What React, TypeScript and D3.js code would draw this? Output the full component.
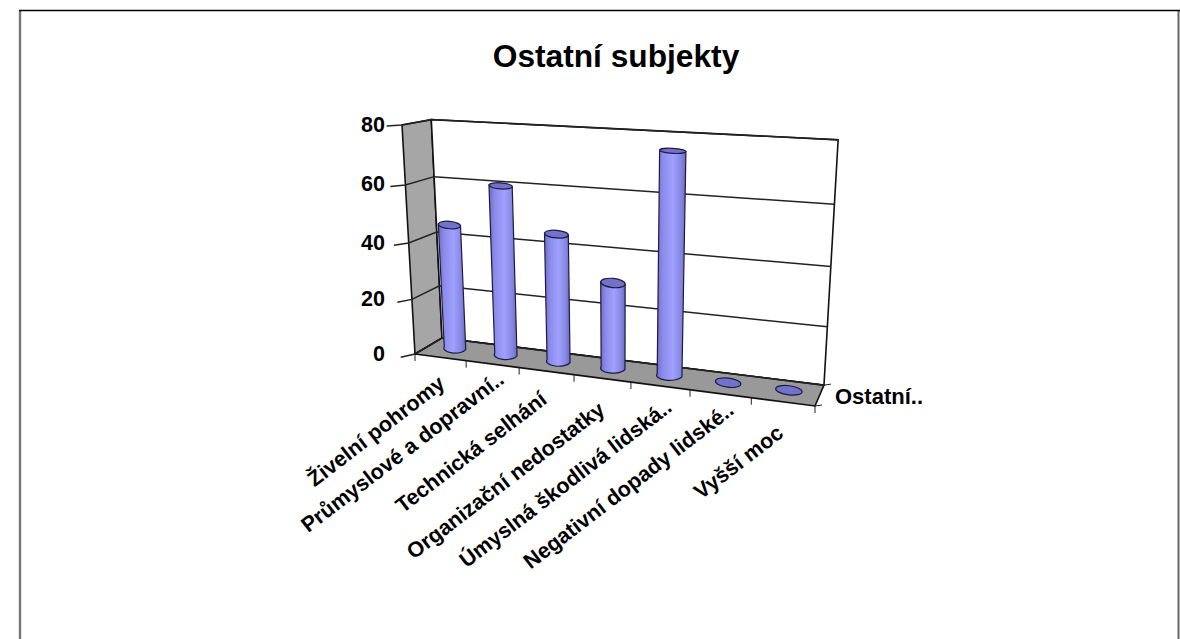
import * as d3 from 'd3';
import { useEffect, useRef } from 'react';

const TITLE = 'Ostatní subjekty';
const SERIES_NAME = 'Ostatní..';
const CATEGORIES = [
  'Živelní pohromy',
  'Průmyslové a dopravní..',
  'Technická selhání',
  'Organizační nedostatky',
  'Úmyslná škodlivá lidská..',
  'Negativní dopady lidské..',
  'Vyšší moc',
];
const VALUES = [45, 60, 45, 30, 75, 0, 0];
const Y_TICKS = [0, 20, 40, 60, 80];

const WIDTH = 1180;
const HEIGHT = 639;

// label end offsets, excel nudges these around
const LABEL_NUDGE = [
  [6, 29],
  [13, 18],
  [2, 31],
  [4, 34],
  [13, 24],
  [15, 19],
  [2, 34],
];

type Pt = [number, number];

// corners of the 3d box as seen on the picture
const ORIGIN: Pt = [415, 354];
const END_X: Pt = [815, 406];
const END_DEPTH: Pt = [442, 338];
const END_Z: Pt = [402, 125];
const PERSP = { x: -0.12, depth: 0.05, z: -0.06 };

const vecX: Pt = [END_X[0] * (1 + PERSP.x) - ORIGIN[0], END_X[1] * (1 + PERSP.x) - ORIGIN[1]];
const vecD: Pt = [END_DEPTH[0] * (1 + PERSP.depth) - ORIGIN[0], END_DEPTH[1] * (1 + PERSP.depth) - ORIGIN[1]];
const vecZ: Pt = [END_Z[0] * (1 + PERSP.z) - ORIGIN[0], END_Z[1] * (1 + PERSP.z) - ORIGIN[1]];

function project(u: number, v: number, h: number): Pt {
  const w = 1 + PERSP.x * u + PERSP.depth * v + PERSP.z * h;
  return [
    (ORIGIN[0] + u * vecX[0] + v * vecD[0] + h * vecZ[0]) / w,
    (ORIGIN[1] + u * vecX[1] + v * vecD[1] + h * vecZ[1]) / w,
  ];
}

function App() {
  const svgRef = useRef<SVGSVGElement>(null);

  useEffect(() => {
    if (!svgRef.current) { return; }
    const svg = d3.select(svgRef.current);
    svg.selectAll('*').remove();

    const font = '"Liberation Sans", Arial, sans-serif';
    const x = d3.scaleBand<number>().domain(d3.range(CATEGORIES.length)).range([0, 1]);
    const z = d3.scaleLinear().domain([0, 80]).range([0, 1]);
    const line = d3.line<Pt>();

    const defs = svg.append('defs');
    const grad = defs.append('linearGradient').attr('id', 'cyl');
    [['0%', '#6f6fc8'], ['22%', '#8c8cec'], ['55%', '#a0a0ff'], ['85%', '#8484e0'], ['100%', '#6a6abc']]
      .forEach(([offset, color]) => {
        grad.append('stop').attr('offset', offset).attr('stop-color', color);
      });

    // outer frame, the bottom edge is cut off
    svg.append('line').attr('x1', 20).attr('x2', 20).attr('y1', 11).attr('y2', 639)
      .attr('stroke', '#777').attr('stroke-width', 2.4);
    svg.append('line').attr('x1', 1178.5).attr('x2', 1178.5).attr('y1', 11).attr('y2', 639)
      .attr('stroke', '#666').attr('stroke-width', 2);
    svg.append('line').attr('x1', 19).attr('x2', 1180).attr('y1', 10.5).attr('y2', 10.5)
      .attr('stroke', '#000').attr('stroke-width', 1.5);

    svg.append('text').attr('x', 616).attr('y', 67).attr('text-anchor', 'middle')
      .attr('font-family', font).attr('font-weight', 'bold').attr('font-size', 31.7).text(TITLE);

    const poly = (pts: Pt[], fill: string) => svg.append('path')
      .attr('d', `${line(pts)}Z`).attr('fill', fill).attr('stroke', '#111').attr('stroke-width', 1.6);

    // walls and floor
    poly([project(0, 0, 0), project(0, 1, 0), project(0, 1, 1), project(0, 0, 1)], '#a6a6a6');
    poly([project(0, 1, 0), project(1, 1, 0), project(1, 1, 1), project(0, 1, 1)], '#fff');
    poly([project(0, 0, 0), project(1, 0, 0), project(1, 1, 0), project(0, 1, 0)], '#999');

    // gridlines along both walls
    Y_TICKS.forEach((t) => {
      const h = z(t);
      svg.append('path').attr('d', line([project(-0.02, -0.25, h), project(0, 0, h), project(0, 1, h), project(1, 1, h)]))
        .attr('fill', 'none').attr('stroke', '#222').attr('stroke-width', 1.5);
      const [, ly] = project(0, 0, h);
      svg.append('text').attr('x', 385).attr('y', ly + 6.5).attr('text-anchor', 'end')
        .attr('font-family', font).attr('font-weight', 'bold').attr('font-size', 21.5).text(t);
    });

    // category ticks under the front edge
    d3.range(CATEGORIES.length + 1).forEach((i) => {
      const [tx, ty] = project(i / CATEGORIES.length, 0, 0);
      svg.append('line').attr('x1', tx).attr('x2', tx).attr('y1', ty).attr('y2', ty + 7)
        .attr('stroke', '#222').attr('stroke-width', 1);
    });

    // depth axis ticks and the series name
    [0, 1].forEach((v) => {
      const [tx, ty] = project(1, v, 0);
      svg.append('line').attr('x1', tx).attr('x2', tx + 7).attr('y1', ty).attr('y2', ty - 1)
        .attr('stroke', '#222').attr('stroke-width', 1);
    });
    svg.append('text').attr('x', 835).attr('y', 404)
      .attr('font-family', font).attr('font-weight', 'bold').attr('font-size', 22).text(SERIES_NAME);

    // cylinders, they never overlap so order does not matter
    VALUES.forEach((value, i) => {
      const center = (x(i) as number) + x.bandwidth() / 2;
      const halfU = x.bandwidth() * 0.215;
      const left0 = project(center - halfU, 0.55, 0);
      const right0 = project(center + halfU, 0.55, 0);
      const top = z(value);
      const left1 = project(center - halfU, 0.55, top);
      const right1 = project(center + halfU, 0.55, top);
      const rx0 = (right0[0] - left0[0]) / 2;
      const rx1 = (right1[0] - left1[0]) / 2;
      const cx = (left1[0] + right1[0]) / 2;
      const cy = (left1[1] + right1[1]) / 2;
      // ellipses get flatter the higher they sit on screen
      const ry0 = 4.8;
      const ry1 = Math.min(4.6, 2.5 + Math.max(0, cy - 150) * 0.016);

      if (value > 0) {
        svg.append('path')
          .attr('d', `M${left1[0]},${left1[1]}L${left0[0]},${left0[1]}A${rx0},${ry0} 0 0 0 ${right0[0]},${right0[1]}L${right1[0]},${right1[1]}Z`)
          .attr('fill', 'url(#cyl)').attr('stroke', '#1c1c40').attr('stroke-width', 1.2);
      }
      const angle = Math.atan2(right1[1] - left1[1], right1[0] - left1[0]) * 180 / Math.PI;
      svg.append('ellipse').attr('rx', rx1).attr('ry', ry1)
        .attr('transform', `translate(${cx},${cy}) rotate(${angle})`)
        .attr('fill', '#7272cc').attr('stroke', '#1c1c40').attr('stroke-width', 1.2);
    });

    // rotated category labels
    CATEGORIES.forEach((label, i) => {
      const center = (x(i) as number) + x.bandwidth() / 2;
      const [tx, ty] = project(center, 0, 0);
      const [nx, ny] = LABEL_NUDGE[i];
      svg.append('text')
        .attr('transform', `translate(${tx + nx},${ty + ny}) rotate(-37.5)`)
        .attr('text-anchor', 'end')
        .attr('font-family', font).attr('font-weight', 'bold').attr('font-size', 21.5)
        .text(label);
    });
  }, []);

  return (
    <svg
      ref={svgRef}
      width={WIDTH}
      height={HEIGHT}
      style={{ position: 'absolute', left: 0, top: 0, background: '#fff' }}
    />
  );
}

export default App;
